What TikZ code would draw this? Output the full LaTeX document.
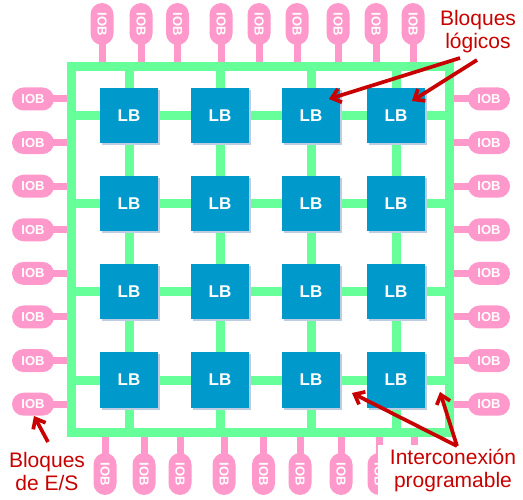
\documentclass[tikz,border=0pt]{standalone}
\usepackage{fontspec}
\setmainfont{Liberation Sans}
\usetikzlibrary{arrows.meta,shapes.misc}
\definecolor{grn}{RGB}{102,255,153}
\definecolor{pnk}{RGB}{255,153,204}
\definecolor{lbblue}{RGB}{0,153,204}
\definecolor{shd}{RGB}{190,204,226}
\definecolor{dred}{RGB}{200,0,0}
\begin{document}
\begin{tikzpicture}[x=1pt,y=-1pt,
  gridline/.style={draw=grn,line width=9pt},
  stub/.style={draw=pnk,line width=7pt},
  iob/.style={rounded rectangle,fill=pnk,minimum width=42pt,minimum height=23pt,inner sep=0pt,
    text=white,font=\bfseries\fontsize{13}{13}\selectfont},
  lbbox/.style={fill=lbblue,minimum width=58pt,minimum height=55pt,inner sep=0pt,
    text=white,font=\bfseries\fontsize{17}{17}\selectfont},
  lbshadow/.style={fill=shd,minimum width=58pt,minimum height=55pt,inner sep=0pt},
  lbl/.style={text=dred,align=center,inner sep=0pt,font=\fontsize{21}{23}\selectfont},
  arr/.style={draw=dred,line width=3.7pt,-{Straight Barb[length=8.5pt,width=14pt]}}
]
\useasboundingbox (0,0) rectangle (523,500);
\fill[white] (0,0) rectangle (523,500);
% left and right IOBs
\foreach \y [count=\i] in {99,142.6,186.2,229.8,273.4,317,360.6,404.2}{
  \draw[stub] (33,\y) -- (71,\y);
  \node[iob] (l\i) at (33,\y) {IOB};
  \draw[stub] (489,\y) -- (449,\y);
  \node[iob] (r\i) at (489,\y) {IOB};
}
% top IOBs
\foreach \x [count=\i] in {102,141,177.5,221,259,297,338,376,413}{
  \draw[stub] (\x,24) -- (\x,67);
  \node[iob,rotate=-90] (t\i) at (\x,24) {IOB};
}
% bottom IOBs
\foreach \x [count=\i] in {105,144,180,224,263.5,300,341,379,414}{
  \draw[stub] (\x,474) -- (\x,432);
  \node[iob,rotate=-90] (d\i) at (\x,474) {IOB};
}
% interconnect
\draw[gridline] (71,67) rectangle (449,432);
\foreach \x in {129,220,311,396}{ \draw[gridline] (\x,67) -- (\x,432); }
\foreach \y in {116,204,292,380}{ \draw[gridline] (71,\y) -- (449,\y); }
% logic blocks
\foreach \y [count=\r] in {116,204,292,380}{
  \foreach \x [count=\c] in {129,220,311,396}{
    \node[lbshadow] at (\x+2,\y+2) {};
    \node[lbbox] (b\r\c) at (\x,\y) {LB};
  }
}
% label background
\fill[white] (378,445) rectangle (523,500);
% labels
\node[lbl] (lblog) at (478,31.5) {Bloques\\lógicos};
\node[lbl] (lbes) at (47,471) {Bloques\\de E/S};
\node[lbl] (lbint) at (453,470.5) {Interconexión\\programable};
% arrows
\coordinate (s1) at (460,58);
\coordinate (s2) at (477,60);
\coordinate (s3) at (48,442);
\coordinate (s4) at (457,446);
\coordinate (e1) at (329,99);
\coordinate (e2) at (412,101);
\coordinate (e3) at (34,416);
\coordinate (e4) at (352,393);
\coordinate (e5) at (440,392);
\draw[arr] (s1) -- (e1);
\draw[arr] (s2) -- (e2);
\draw[arr] (s3) -- (e3);
\draw[arr] (s4) -- (e4);
\draw[arr] (s4) -- (e5);
\end{tikzpicture}
\end{document}
